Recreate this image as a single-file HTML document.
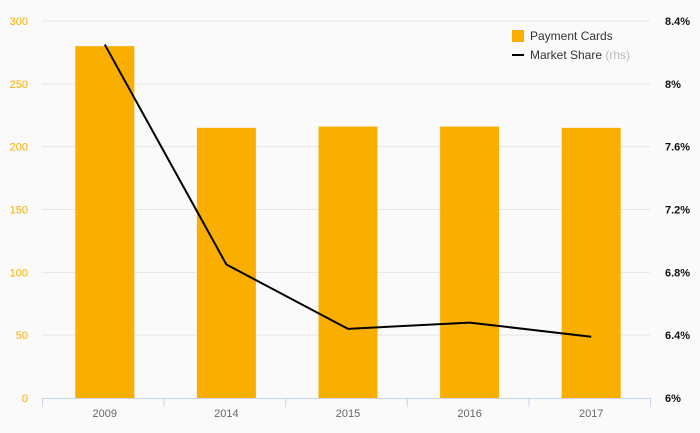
<!DOCTYPE html>
<html><head><meta charset="utf-8"><style>
html,body{margin:0;padding:0;background:#fafafa;}
svg{display:block;font-family:"Liberation Sans",sans-serif;}
</style></head><body>
<svg id="chart" width="700" height="433"></svg>
<script>
const categories=["2009","2014","2015","2016","2017"];
const cardValues=[280,215,216,216,215];
const shareValues=[8.25,6.85,6.44,6.48,6.39];
const leftTicks=[0,50,100,150,200,250,300];
const rightTicks=[6,6.4,6.8,7.2,7.6,8,8.4];
const rightTickLabels=["6%","6.4%","6.8%","7.2%","7.6%","8%","8.4%"];

const NS="http://www.w3.org/2000/svg";
const svg=document.getElementById('chart');
const X0=42,X1=650,Y0=398,Y1=21;
const band=(X1-X0)/categories.length;
const xc=i=>X0+band*(i+0.5)+2;
const yL=v=>Y0-(v-0)/(300-0)*(Y0-Y1);
const yR=v=>Y0-(v-6)/(8.4-6)*(Y0-Y1);
function mk(tag,attrs,text){const e=document.createElementNS(NS,tag);for(const k in attrs)e.setAttribute(k,attrs[k]);if(text!==undefined)e.textContent=text;svg.appendChild(e);return e;}

leftTicks.forEach((t,i)=>{
  if(t>0){const g=mk('line',{x1:X0,x2:X1,y1:yL(t),y2:yL(t),stroke:'#e6e6e6','stroke-width':1});
  
  }
  const l=mk('text',{x:28,y:yL(t)+4,'text-anchor':'end','font-size':11,fill:'#f9ae00'},String(t));
  
  
});
rightTicks.forEach((t,i)=>{
  const l=mk('text',{x:665,y:yR(t)+4,'font-size':11,'font-weight':'bold',fill:'#111'},rightTickLabels[i]);
  
  
});
categories.forEach((c,i)=>{
  const bw=59;
  const b=mk('rect',{x:xc(i)-bw/2,y:yL(cardValues[i]),width:bw,height:Y0-yL(cardValues[i]),fill:'#f9ae00'});
  
  
  const l=mk('text',{x:xc(i),y:417,'text-anchor':'middle','font-size':11,fill:'#666'},c);
  
  
});
const ax=mk('line',{x1:X0,x2:X1,y1:Y0+0.5,y2:Y0+0.5,stroke:'#c8d4ea','stroke-width':1});


for(let i=0;i<=categories.length;i++){
  const t=mk('line',{x1:X0+band*i+0.5,x2:X0+band*i+0.5,y1:Y0,y2:Y0+9,stroke:'#c8d4ea','stroke-width':1});
  
  
}
const pts=shareValues.map((v,i)=>xc(i)+','+yR(v)).join(' ');
const ln=mk('polyline',{points:pts,fill:'none',stroke:'#000','stroke-width':2});



const lg1=mk('rect',{x:512,y:30,width:12,height:12,fill:'#f9ae00'});


const lt1=mk('text',{x:530,y:40,'font-size':12,fill:'#333'},'Payment Cards');


const lg2=mk('line',{x1:512,x2:524,y1:55,y2:55,stroke:'#000','stroke-width':2});


const lt2=mk('text',{x:530,y:59,'font-size':12,fill:'#333'});
lt2.innerHTML='Market Share <tspan fill="#bbb">(rhs)</tspan>';


</script>
</body></html>
